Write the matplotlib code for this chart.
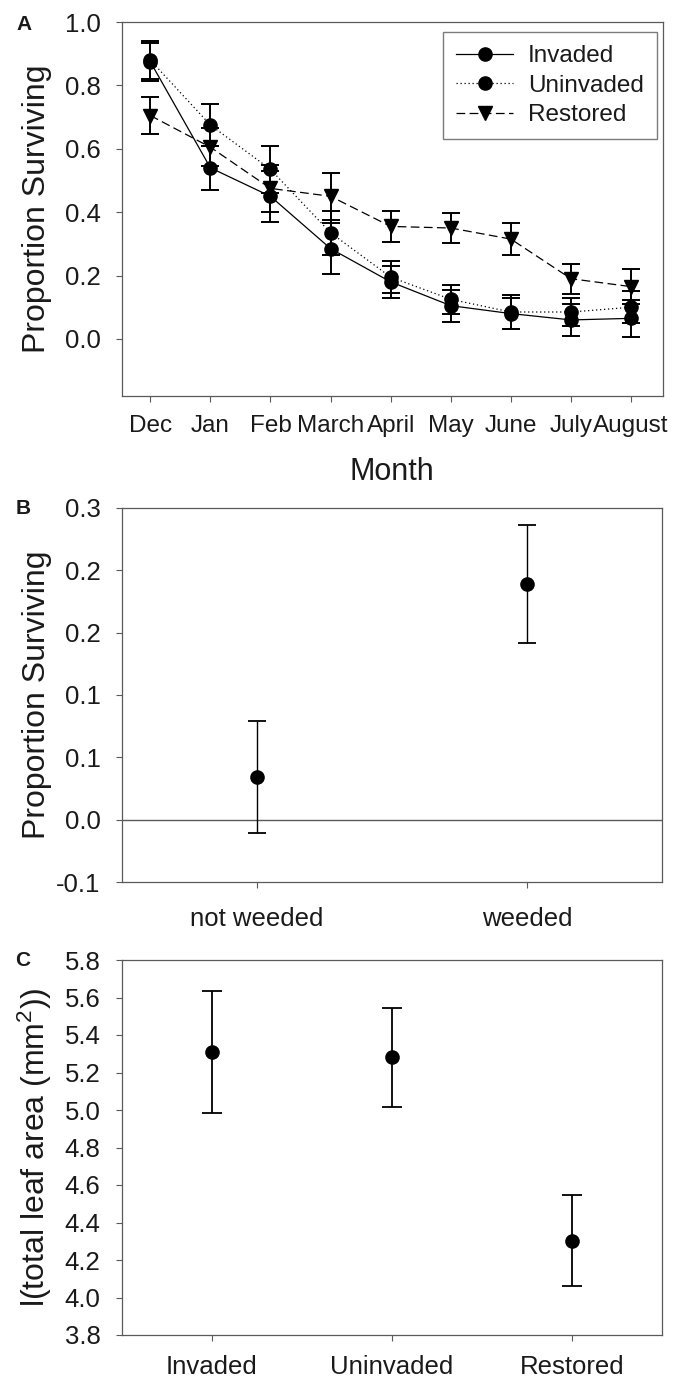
import matplotlib
matplotlib.use('Agg')
import matplotlib.pyplot as plt

plt.rcParams['font.family'] = ['Liberation Sans', 'DejaVu Sans']
plt.rcParams['mathtext.fontset'] = 'custom'
plt.rcParams['mathtext.rm'] = 'Liberation Sans'
plt.rcParams['mathtext.it'] = 'Liberation Sans:italic'

# ---------------- data ----------------
months = ['Dec', 'Jan', 'Feb', 'March', 'April', 'May', 'June', 'July', 'August']
invaded = [0.875, 0.540, 0.450, 0.285, 0.180, 0.105, 0.080, 0.060, 0.065]
invaded_err = [0.060, 0.070, 0.080, 0.080, 0.050, 0.050, 0.050, 0.050, 0.058]
uninvaded = [0.880, 0.675, 0.535, 0.335, 0.195, 0.125, 0.085, 0.085, 0.100]
uninvaded_err = [0.060, 0.065, 0.075, 0.070, 0.050, 0.045, 0.055, 0.045, 0.050]
restored = [0.705, 0.605, 0.475, 0.450, 0.355, 0.350, 0.315, 0.190, 0.165]
restored_err = [0.057, 0.060, 0.075, 0.075, 0.048, 0.046, 0.050, 0.047, 0.055]
series_names = ['Invaded', 'Uninvaded', 'Restored']

weed_cats = ['not weeded', 'weeded']
weed_vals = [0.034, 0.189]
weed_err = [0.045, 0.047]
b_yticks = [-0.05, 0.0, 0.05, 0.10, 0.15, 0.20, 0.25]
b_ytick_labels = ['-0.1', '0.0', '0.1', '0.1', '0.2', '0.2', '0.3']

habitat_cats = ['Invaded', 'Uninvaded', 'Restored']
leaf_vals = [5.31, 5.281, 4.303]
leaf_err = [0.325, 0.264, 0.244]

# ---------------- layout ----------------
W, H = 677, 1382
fig = plt.figure(figsize=(W / 100, H / 100), dpi=100)


def box(l, t, r, b):
    return [l / W, 1 - b / H, (r - l) / W, (b - t) / H]


SPINE = '#5a5a5a'
TXT = '#1a1a1a'


def style(ax, xpad, xsize):
    for s in ax.spines.values():
        s.set_color(SPINE)
        s.set_linewidth(0.9)
    ax.tick_params(axis='both', direction='out', length=4.5, width=0.8,
                   color=SPINE, labelcolor=TXT)
    ax.tick_params(axis='y', labelsize=18.5, pad=11)
    ax.tick_params(axis='x', labelsize=xsize, pad=xpad)
    ax.tick_params(top=False, right=False)


# ---------------- Panel A ----------------
axA = fig.add_axes(box(122, 22, 663, 396))
xA = list(range(len(months)))
styles = [
    dict(marker='o', ls='-', ms=9.5),
    dict(marker='o', ls=(0, (1, 2.2)), ms=9.5),
    dict(marker='v', ls=(0, (7, 3.5)), ms=10.5),
]
for vals, errs, name, st in zip([invaded, uninvaded, restored],
                                [invaded_err, uninvaded_err, restored_err],
                                series_names, styles):
    axA.errorbar(xA, vals, yerr=errs, fmt='none', ecolor='black',
                 elinewidth=1.4, capsize=6.5, capthick=1.4, zorder=2)
    axA.plot(xA, vals, color='black', lw=0.9, label=name, zorder=3, **st)

axA.set_xlim(-0.47, 8.53)
axA.set_ylim(-0.18, 1.0)
axA.set_yticks([0.0, 0.2, 0.4, 0.6, 0.8, 1.0])
axA.set_yticklabels(['0.0', '0.2', '0.4', '0.6', '0.8', '1.0'])
axA.set_xticks(xA)
axA.set_xticklabels(months)
style(axA, xpad=9.5, xsize=17.5)
leg = axA.legend(loc='upper right', bbox_to_anchor=(0.989, 0.973), frameon=True,
                 fancybox=False, edgecolor=SPINE, fontsize=17.5, handlelength=2.35,
                 handletextpad=0.6, labelspacing=0.3, borderpad=0.55,
                 numpoints=1, borderaxespad=0)
leg.get_frame().set_linewidth(1.0)
for t in leg.get_texts():
    t.set_color(TXT)
fig.text(392 / W, 1 - 457 / H, 'Month', ha='center', va='top', fontsize=22, color=TXT)
fig.text(37 / W, 1 - 209 / H, 'Proportion Surviving', rotation=90, ha='center',
         va='center', fontsize=23, color=TXT)
fig.text(24 / W, 1 - 24 / H, 'A', ha='center', va='center', fontsize=15,
         fontweight='bold', color=TXT)

# ---------------- Panel B ----------------
axB = fig.add_axes(box(122, 508, 662, 882))
xB = list(range(len(weed_cats)))
axB.axhline(0, color=SPINE, lw=1.0, zorder=1)
axB.errorbar(xB, weed_vals, yerr=weed_err, fmt='o', color='black', ms=9.5,
             elinewidth=1.0, capsize=6.5, capthick=1.3, zorder=3)
axB.set_xlim(-0.5, 1.5)
axB.set_ylim(-0.05, 0.25)
axB.set_yticks(b_yticks)
axB.set_yticklabels(b_ytick_labels)
axB.set_xticks(xB)
axB.set_xticklabels(weed_cats)
style(axB, xpad=13.5, xsize=18.5)
fig.text(37 / W, 1 - 695 / H, 'Proportion Surviving', rotation=90, ha='center',
         va='center', fontsize=23, color=TXT)
fig.text(23 / W, 1 - 509 / H, 'B', ha='center', va='center', fontsize=15,
         fontweight='bold', color=TXT)

# ---------------- Panel C ----------------
axC = fig.add_axes(box(122, 960, 662, 1335))
xC = list(range(len(habitat_cats)))
axC.errorbar(xC, leaf_vals, yerr=leaf_err, fmt='o', color='black', ms=9.5,
             elinewidth=1.3, capsize=7.5, capthick=1.3, zorder=3)
axC.set_xlim(-0.5, 2.5)
axC.set_ylim(3.8, 5.8)
axC.set_yticks([3.8, 4.0, 4.2, 4.4, 4.6, 4.8, 5.0, 5.2, 5.4, 5.6, 5.8])
axC.set_yticklabels(['3.8', '4.0', '4.2', '4.4', '4.6', '4.8', '5.0', '5.2',
                     '5.4', '5.6', '5.8'])
axC.set_xticks(xC)
axC.set_xticklabels(habitat_cats)
style(axC, xpad=10, xsize=18.5)
fig.text(35 / W, 1 - 1147 / H, 'l(total leaf area (mm$^{2}$))', rotation=90,
         ha='center', va='center', fontsize=23, color=TXT)
fig.text(23 / W, 1 - 961 / H, 'C', ha='center', va='center', fontsize=15,
         fontweight='bold', color=TXT)

fig.savefig('out.png', dpi=100)
